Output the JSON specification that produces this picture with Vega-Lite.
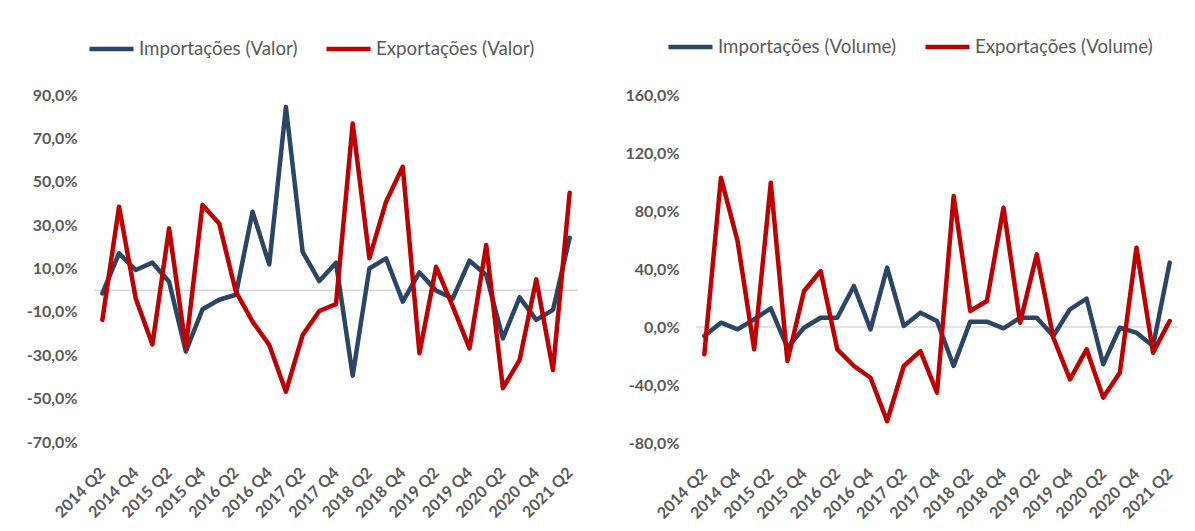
{
  "$schema": "https://vega.github.io/schema/vega-lite/v6.json",
  "background": "white",
  "padding": {"left": 26, "top": 22, "right": 5, "bottom": 5},
  "spacing": 46,
  "config": {
    "view": {"stroke": null},
    "font": "Lato",
    "axis": {"labelFont": "Lato", "labelFontWeight": "bold", "labelFontSize": 16, "labelColor": "#595959", "domain": false, "ticks": false, "grid": false, "title": null},
    "legend": {"orient": "none", "direction": "horizontal", "title": null, "symbolType": "stroke", "symbolSize": 1936, "symbolStrokeWidth": 4.5, "labelFont": "Lato", "labelFontSize": 18.7, "labelColor": "#595959", "labelOffset": 3, "labelLimit": 0, "columnPadding": 19}
  },
  "resolve": {"scale": {"color": "independent"}, "legend": {"color": "independent"}},
  "datasets": {
    "valor": [
      {"q": "2014 Q2", "s": "Importações (Valor)", "v": -1.5}, {"q": "2014 Q2", "s": "Exportações (Valor)", "v": -13.7},
      {"q": "2014 Q3", "s": "Importações (Valor)", "v": 17}, {"q": "2014 Q3", "s": "Exportações (Valor)", "v": 38.5},
      {"q": "2014 Q4", "s": "Importações (Valor)", "v": 9.3}, {"q": "2014 Q4", "s": "Exportações (Valor)", "v": -3.8},
      {"q": "2015 Q1", "s": "Importações (Valor)", "v": 12.7}, {"q": "2015 Q1", "s": "Exportações (Valor)", "v": -25},
      {"q": "2015 Q2", "s": "Importações (Valor)", "v": 3.9}, {"q": "2015 Q2", "s": "Exportações (Valor)", "v": 28.5},
      {"q": "2015 Q3", "s": "Importações (Valor)", "v": -28.3}, {"q": "2015 Q3", "s": "Exportações (Valor)", "v": -26.5},
      {"q": "2015 Q4", "s": "Importações (Valor)", "v": -8.8}, {"q": "2015 Q4", "s": "Exportações (Valor)", "v": 39.3},
      {"q": "2016 Q1", "s": "Importações (Valor)", "v": -4.4}, {"q": "2016 Q1", "s": "Exportações (Valor)", "v": 30.8},
      {"q": "2016 Q2", "s": "Importações (Valor)", "v": -2.1}, {"q": "2016 Q2", "s": "Exportações (Valor)", "v": -0.7},
      {"q": "2016 Q3", "s": "Importações (Valor)", "v": 36.2}, {"q": "2016 Q3", "s": "Exportações (Valor)", "v": -14.5},
      {"q": "2016 Q4", "s": "Importações (Valor)", "v": 11.9}, {"q": "2016 Q4", "s": "Exportações (Valor)", "v": -25.3},
      {"q": "2017 Q1", "s": "Importações (Valor)", "v": 84.5}, {"q": "2017 Q1", "s": "Exportações (Valor)", "v": -46.8},
      {"q": "2017 Q2", "s": "Importações (Valor)", "v": 17.7}, {"q": "2017 Q2", "s": "Exportações (Valor)", "v": -20.7},
      {"q": "2017 Q3", "s": "Importações (Valor)", "v": 4.2}, {"q": "2017 Q3", "s": "Exportações (Valor)", "v": -9.6},
      {"q": "2017 Q4", "s": "Importações (Valor)", "v": 12.7}, {"q": "2017 Q4", "s": "Exportações (Valor)", "v": -6.4},
      {"q": "2018 Q1", "s": "Importações (Valor)", "v": -39.4}, {"q": "2018 Q1", "s": "Exportações (Valor)", "v": 76.9},
      {"q": "2018 Q2", "s": "Importações (Valor)", "v": 10}, {"q": "2018 Q2", "s": "Exportações (Valor)", "v": 14.7},
      {"q": "2018 Q3", "s": "Importações (Valor)", "v": 14.7}, {"q": "2018 Q3", "s": "Exportações (Valor)", "v": 40.8},
      {"q": "2018 Q4", "s": "Importações (Valor)", "v": -5.3}, {"q": "2018 Q4", "s": "Exportações (Valor)", "v": 56.9},
      {"q": "2019 Q1", "s": "Importações (Valor)", "v": 8.2}, {"q": "2019 Q1", "s": "Exportações (Valor)", "v": -29.1},
      {"q": "2019 Q2", "s": "Importações (Valor)", "v": -0.2}, {"q": "2019 Q2", "s": "Exportações (Valor)", "v": 10.8},
      {"q": "2019 Q3", "s": "Importações (Valor)", "v": -3.8}, {"q": "2019 Q3", "s": "Exportações (Valor)", "v": -7.6},
      {"q": "2019 Q4", "s": "Importações (Valor)", "v": 13.6}, {"q": "2019 Q4", "s": "Exportações (Valor)", "v": -26.8},
      {"q": "2020 Q1", "s": "Importações (Valor)", "v": 7}, {"q": "2020 Q1", "s": "Exportações (Valor)", "v": 20.8},
      {"q": "2020 Q2", "s": "Importações (Valor)", "v": -22.2}, {"q": "2020 Q2", "s": "Exportações (Valor)", "v": -45.2},
      {"q": "2020 Q3", "s": "Importações (Valor)", "v": -3.3}, {"q": "2020 Q3", "s": "Exportações (Valor)", "v": -32.2},
      {"q": "2020 Q4", "s": "Importações (Valor)", "v": -13.7}, {"q": "2020 Q4", "s": "Exportações (Valor)", "v": 5},
      {"q": "2021 Q1", "s": "Importações (Valor)", "v": -9.1}, {"q": "2021 Q1", "s": "Exportações (Valor)", "v": -36.8},
      {"q": "2021 Q2", "s": "Importações (Valor)", "v": 24.2}, {"q": "2021 Q2", "s": "Exportações (Valor)", "v": 44.9}
    ],
    "volume": [
      {"q": "2014 Q2", "s": "Importações (Volume)", "v": -6.2}, {"q": "2014 Q2", "s": "Exportações (Volume)", "v": -18.8},
      {"q": "2014 Q3", "s": "Importações (Volume)", "v": 3}, {"q": "2014 Q3", "s": "Exportações (Volume)", "v": 103},
      {"q": "2014 Q4", "s": "Importações (Volume)", "v": -1.6}, {"q": "2014 Q4", "s": "Exportações (Volume)", "v": 59.3},
      {"q": "2015 Q1", "s": "Importações (Volume)", "v": 5.3}, {"q": "2015 Q1", "s": "Exportações (Volume)", "v": -15.4},
      {"q": "2015 Q2", "s": "Importações (Volume)", "v": 12.9}, {"q": "2015 Q2", "s": "Exportações (Volume)", "v": 99.5},
      {"q": "2015 Q3", "s": "Importações (Volume)", "v": -14.2}, {"q": "2015 Q3", "s": "Exportações (Volume)", "v": -23.4},
      {"q": "2015 Q4", "s": "Importações (Volume)", "v": -0.5}, {"q": "2015 Q4", "s": "Exportações (Volume)", "v": 24.8},
      {"q": "2016 Q1", "s": "Importações (Volume)", "v": 6.4}, {"q": "2016 Q1", "s": "Exportações (Volume)", "v": 38.6},
      {"q": "2016 Q2", "s": "Importações (Volume)", "v": 6.4}, {"q": "2016 Q2", "s": "Exportações (Volume)", "v": -15.4},
      {"q": "2016 Q3", "s": "Importações (Volume)", "v": 28.3}, {"q": "2016 Q3", "s": "Exportações (Volume)", "v": -26.9},
      {"q": "2016 Q4", "s": "Importações (Volume)", "v": -1.6}, {"q": "2016 Q4", "s": "Exportações (Volume)", "v": -35},
      {"q": "2017 Q1", "s": "Importações (Volume)", "v": 41}, {"q": "2017 Q1", "s": "Exportações (Volume)", "v": -65},
      {"q": "2017 Q2", "s": "Importações (Volume)", "v": 0.7}, {"q": "2017 Q2", "s": "Exportações (Volume)", "v": -26.9},
      {"q": "2017 Q3", "s": "Importações (Volume)", "v": 9.9}, {"q": "2017 Q3", "s": "Exportações (Volume)", "v": -16.6},
      {"q": "2017 Q4", "s": "Importações (Volume)", "v": 4.1}, {"q": "2017 Q4", "s": "Exportações (Volume)", "v": -45.3},
      {"q": "2018 Q1", "s": "Importações (Volume)", "v": -26.9}, {"q": "2018 Q1", "s": "Exportações (Volume)", "v": 90.3},
      {"q": "2018 Q2", "s": "Importações (Volume)", "v": 3.7}, {"q": "2018 Q2", "s": "Exportações (Volume)", "v": 11},
      {"q": "2018 Q3", "s": "Importações (Volume)", "v": 3.7}, {"q": "2018 Q3", "s": "Exportações (Volume)", "v": 17.9},
      {"q": "2018 Q4", "s": "Importações (Volume)", "v": -0.9}, {"q": "2018 Q4", "s": "Exportações (Volume)", "v": 82.3},
      {"q": "2019 Q1", "s": "Importações (Volume)", "v": 6.4}, {"q": "2019 Q1", "s": "Exportações (Volume)", "v": 3},
      {"q": "2019 Q2", "s": "Importações (Volume)", "v": 6.4}, {"q": "2019 Q2", "s": "Exportações (Volume)", "v": 50.1},
      {"q": "2019 Q3", "s": "Importações (Volume)", "v": -6.2}, {"q": "2019 Q3", "s": "Exportações (Volume)", "v": -7.4},
      {"q": "2019 Q4", "s": "Importações (Volume)", "v": 12.2}, {"q": "2019 Q4", "s": "Exportações (Volume)", "v": -36.1},
      {"q": "2020 Q1", "s": "Importações (Volume)", "v": 19.5}, {"q": "2020 Q1", "s": "Exportações (Volume)", "v": -15.4},
      {"q": "2020 Q2", "s": "Importações (Volume)", "v": -25.7}, {"q": "2020 Q2", "s": "Exportações (Volume)", "v": -48.7},
      {"q": "2020 Q3", "s": "Importações (Volume)", "v": -0.5}, {"q": "2020 Q3", "s": "Exportações (Volume)", "v": -31.5},
      {"q": "2020 Q4", "s": "Importações (Volume)", "v": -3.9}, {"q": "2020 Q4", "s": "Exportações (Volume)", "v": 54.7},
      {"q": "2021 Q1", "s": "Importações (Volume)", "v": -13.1}, {"q": "2021 Q1", "s": "Exportações (Volume)", "v": -17.7},
      {"q": "2021 Q2", "s": "Importações (Volume)", "v": 44.4}, {"q": "2021 Q2", "s": "Exportações (Volume)", "v": 4.1}
    ]
  },
  "hconcat": [
    {
      "width": 484,
      "height": 347,
      "layer": [
        {
          "data": {"values": [{"z": 0}]},
          "mark": {"type": "rule", "color": "#d9d9d9", "strokeWidth": 1.5},
          "encoding": {"y": {"field": "z", "type": "quantitative", "scale": {"domain": [-70, 90], "nice": false, "zero": false}}}
        },
        {
          "data": {"name": "valor"},
          "mark": {"type": "line", "strokeWidth": 4.5, "strokeJoin": "round", "strokeCap": "round"},
          "encoding": {
            "x": {"field": "q", "type": "nominal", "sort": null, "scale": {"type": "point", "padding": 0.5},
                  "axis": {"values": ["2014 Q2", "2014 Q4", "2015 Q2", "2015 Q4", "2016 Q2", "2016 Q4", "2017 Q2", "2017 Q4", "2018 Q2", "2018 Q4", "2019 Q2", "2019 Q4", "2020 Q2", "2020 Q4", "2021 Q2"],
                           "labelAngle": -45, "labelAlign": "right", "labelBaseline": "middle", "labelPadding": 28}},
            "y": {"field": "v", "type": "quantitative", "scale": {"domain": [-70, 90], "nice": false, "zero": false},
                  "axis": {"values": [-70, -50, -30, -10, 10, 30, 50, 70, 90], "labelPadding": 17,
                           "labelExpr": "(datum.value < 0 ? '-' : '') + replace(format(abs(datum.value), '.1f'), '.', ',') + '%'"}},
            "color": {"field": "s", "type": "nominal",
                      "scale": {"domain": ["Importações (Valor)", "Exportações (Valor)"], "range": ["#2B4566", "#C00000"]},
                      "legend": {"legendX": -7, "legendY": -71}}
          }
        }
      ]
    },
    {
      "width": 482,
      "height": 348,
      "layer": [
        {
          "data": {"values": [{"z": 0}]},
          "mark": {"type": "rule", "color": "#d9d9d9", "strokeWidth": 1.5},
          "encoding": {"y": {"field": "z", "type": "quantitative", "scale": {"domain": [-80, 160], "nice": false, "zero": false}}}
        },
        {
          "data": {"name": "volume"},
          "mark": {"type": "line", "strokeWidth": 4.5, "strokeJoin": "round", "strokeCap": "round"},
          "encoding": {
            "x": {"field": "q", "type": "nominal", "sort": null, "scale": {"type": "point", "padding": 0.5},
                  "axis": {"values": ["2014 Q2", "2014 Q4", "2015 Q2", "2015 Q4", "2016 Q2", "2016 Q4", "2017 Q2", "2017 Q4", "2018 Q2", "2018 Q4", "2019 Q2", "2019 Q4", "2020 Q2", "2020 Q4", "2021 Q2"],
                           "labelAngle": -45, "labelAlign": "right", "labelBaseline": "middle", "labelPadding": 28}},
            "y": {"field": "v", "type": "quantitative", "scale": {"domain": [-80, 160], "nice": false, "zero": false},
                  "axis": {"values": [-80, -40, 0, 40, 80, 120, 160], "labelPadding": 17,
                           "labelExpr": "(datum.value < 0 ? '-' : '') + replace(format(abs(datum.value), '.1f'), '.', ',') + '%'"}},
            "color": {"field": "s", "type": "nominal",
                      "scale": {"domain": ["Importações (Volume)", "Exportações (Volume)"], "range": ["#2B4566", "#C00000"]},
                      "legend": {"legendX": -30, "legendY": -73}}
          }
        }
      ]
    }
  ]
}
